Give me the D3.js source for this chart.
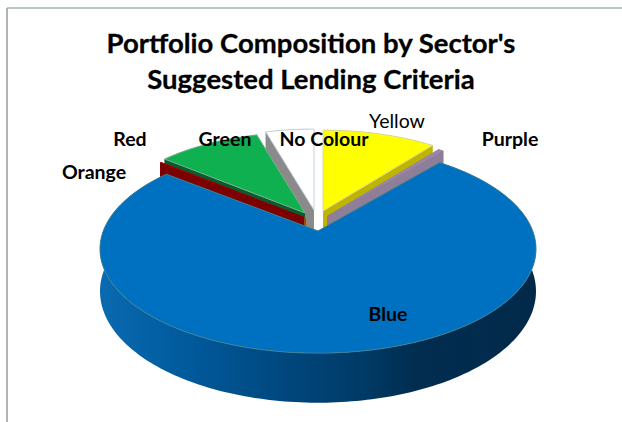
<!DOCTYPE html>
<html>
<head>
<meta charset="utf-8">
<script src="https://cdn.jsdelivr.net/npm/d3@7"></script>
<style>
html,body{margin:0;padding:0;background:#fff;}
svg{display:block;}
text{font-family:Lato,"Open Sans",sans-serif;fill:#000;}
</style>
</head>
<body>
<svg id="chart" width="622" height="422"></svg>
<script>
// Sector shares of the portfolio, clockwise from twelve o'clock
const categories = ["Yellow", "Purple", "Blue", "Orange", "Red", "Green", "No Colour"];
const shares = [10.6, 0.5, 74.6, 0.1, 0.1, 9.6, 4.5];
const titleLines = ["Portfolio Composition by Sector's", "Suggested Lending Criteria"];

// Per-sector look: top colour, wall colour, explode offset of the apex, radius factor
const look = {
  "Yellow":    {top:"#ffff00", wall:"#bfb400", dx:4,   dy:-20, r:0.93, edge:"#d8d8a0"},
  "Purple":    {top:"#9a86a8", wall:"#8e7e98", dx:8,   dy:-15, r:0.95, edge:"none"},
  "Blue":      {top:"#0070c0", wall:"url(#blueWall)", dx:-1, dy:0, r:1, edge:"#3d8296"},
  "Orange":    {top:"#e46c0a", wall:"#a04a06", dx:-13, dy:-13, r:0.95, edge:"none"},
  "Red":       {top:"#c00000", wall:"#7c0000", dx:-15, dy:-14, r:0.95, edge:"none"},
  "Green":     {top:"#0fb050", wall:"#0b5a30", dx:-14, dy:-18, r:0.93, edge:"#7fb08f"},
  "No Colour": {top:"#ffffff", wall:"#8a8a8a", dx:-5,  dy:-21, r:0.93, edge:"#c4cfe0"}
};
const labelSpots = {
  "Yellow":    {x:397, y:128, weight:400},
  "Purple":    {x:510, y:146, weight:700},
  "Blue":      {x:388, y:321, weight:700},
  "Orange":    {x:94,  y:179, weight:700},
  "Red":       {x:130, y:146, weight:700},
  "Green":     {x:225, y:146, weight:700},
  "No Colour": {x:324, y:146, weight:700}
};
// Painted back to front so the large front slice hides the walls behind it
const paintOrder = ["No Colour", "Green", "Orange", "Red", "Yellow", "Purple", "Blue"];

const svg = d3.select("#chart");

// Perspective set-up of the tilted disc
const apexX = 319, apexY = 231, tilt = 0.173, depth = 41;
const xScale = d3.scaleLinear().domain([-1, 1]).range([apexX - 214.7, apexX + 214.7]);
const yScale = d3.scaleLinear().domain([-1, 1]).range([apexY + 101, apexY - 101]);
function project(angle, radius, off, drop) {
  const u = Math.sin(angle) * radius, v = Math.cos(angle) * radius;
  const w = 1 + tilt * v;
  return [
    apexX + (xScale(u) - apexX) / w + off.dx,
    apexY + (yScale(v) - apexY) / w + off.dy + drop / w
  ];
}
function rim(a0, a1, off, drop) {
  const n = Math.max(2, Math.ceil((a1 - a0) / 0.02));
  return d3.range(n + 1).map(i => project(a0 + (a1 - a0) * i / n, off.r, off, drop));
}
const line = d3.line();

const pie = d3.pie().sort(null).value((d, i) => shares[i]);
const arcs = pie(categories);
const byName = new Map(categories.map((c, i) => [c, arcs[i]]));

// Horizontal shading along the outside wall of the big slice
const grad = svg.append("defs").append("linearGradient")
  .attr("id", "blueWall").attr("gradientUnits", "userSpaceOnUse")
  .attr("x1", 101).attr("x2", 537).attr("y1", 0).attr("y2", 0);
[[0, "#0a69b0"], [0.2, "#005a9c"], [0.42, "#00477e"], [0.6, "#003a66"], [0.72, "#012d50"], [1, "#02294a"]]
  .forEach(([o, c]) => grad.append("stop").attr("offset", o).attr("stop-color", c));

// Window frame lines
svg.append("line").attr("x1", 7).attr("x2", 622).attr("y1", 8).attr("y2", 8)
  .attr("stroke", "#9fb4b4").attr("stroke-width", 1.5);
svg.append("line").attr("x1", 7).attr("x2", 7).attr("y1", 8).attr("y2", 422)
  .attr("stroke", "#9a9a9a").attr("stroke-width", 1.5);

// Title
svg.append("g").selectAll("text").data(titleLines).join("text")
  .attr("x", 311).attr("y", (d, i) => 52.5 + i * 36.5)
  .attr("text-anchor", "middle").attr("font-weight", 700).attr("font-size", 27.5)
  .attr("stroke", "#000").attr("stroke-width", 0.3)
  .text(d => d);

// Slices
const slices = svg.append("g");
paintOrder.forEach(name => {
  const a = byName.get(name), s = look[name];
  const g = slices.append("g").attr("data-sector", name);
  const apexTop = project(0, 0, s, 0), apexLow = project(0, 0, s, depth);
  const top = rim(a.startAngle, a.endAngle, s, 0);
  const low = rim(a.startAngle, a.endAngle, s, depth);
  // outer wall
  g.append("path").attr("d", line(top.concat(low.slice().reverse())) + "Z").attr("fill", s.wall);
  // cut walls on both radial edges
  [top[0], top[top.length - 1]].forEach((p, i) => {
    const q = (i ? low[low.length - 1] : low[0]);
    g.append("path").attr("d", line([apexTop, p, q, apexLow]) + "Z").attr("fill", s.wall);
  });
  // top face
  g.append("path").attr("d", line([apexTop].concat(top)) + "Z")
    .attr("fill", s.top).attr("stroke", s.edge).attr("stroke-width", 1);
});

// Sector labels
svg.append("g").selectAll("text").data(categories).join("text")
  .attr("x", d => labelSpots[d].x).attr("y", d => labelSpots[d].y)
  .attr("text-anchor", "middle")
  .attr("font-weight", d => labelSpots[d].weight)
  .attr("font-size", 19.5)
  .text(d => d);
</script>
</body>
</html>
